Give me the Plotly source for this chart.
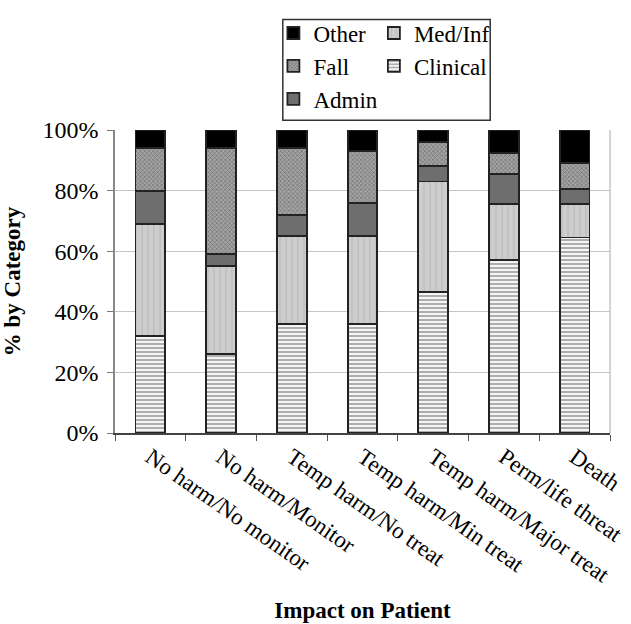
import plotly.graph_objects as go

categories = ["No harm/No monitor", "No harm/Monitor", "Temp harm/No treat",
              "Temp harm/Min treat", "Temp harm/Major treat", "Perm/life threat", "Death"]
clinical = [32, 26, 36, 36, 46.5, 57, 64.5]
med_inf = [37, 29, 29, 29, 36.5, 18.5, 11]
admin = [11, 4, 7, 11, 5, 10, 5]
fall = [14, 35, 22, 17, 8, 7, 8.5]
other = [6, 6, 6, 7, 4, 7.5, 11]

FONT = "Liberation Serif"
LINE = dict(color="#222222", width=1.8)

fig = go.Figure()
series = [
    ("Clinical", clinical, dict(color="white", pattern=dict(shape="-", fgcolor="#444444", bgcolor="#f4f4f4", size=4, solidity=0.4)), "legend2"),
    ("Med/Inf", med_inf, dict(color="#c8c8c8", pattern=dict(shape="|", fgcolor="#b0b0b0", bgcolor="#cdcdcd", size=6, solidity=0.25)), "legend2"),
    ("Admin", admin, dict(color="#6e6e6e"), "legend"),
    ("Fall", fall, dict(color="#808080", pattern=dict(shape="x", fgcolor="#4a4a4a", bgcolor="#a4a4a4", size=3, solidity=0.45)), "legend"),
    ("Other", other, dict(color="black"), "legend"),
]
for name, vals, mk, lg in series:
    mk = dict(mk)
    mk["line"] = LINE
    fig.add_trace(go.Bar(x=categories, y=vals, name=name, marker=mk, width=0.42, legend=lg))

LEG_FONT = dict(family=FONT, size=23, color="black")
fig.update_layout(
    barmode="stack",
    width=631, height=624,
    margin=dict(l=115, r=21, t=123, b=191),
    paper_bgcolor="white", plot_bgcolor="white",
    font=dict(family=FONT, size=23, color="black"),
    legend=dict(x=0.32, y=1.391, xanchor="left", yanchor="top", traceorder="reversed",
                font=LEG_FONT, itemwidth=30, bgcolor="rgba(0,0,0,0)"),
    legend2=dict(x=0.523, y=1.391, xanchor="left", yanchor="top", traceorder="reversed",
                 font=LEG_FONT, itemwidth=30, bgcolor="rgba(0,0,0,0)"),
    shapes=[
        dict(type="rect", xref="paper", yref="paper", x0=0.339, x1=0.758, y0=1.032, y1=1.365,
             line=dict(color="#333333", width=1.5), fillcolor="rgba(0,0,0,0)"),
        dict(type="line", xref="paper", yref="paper", x0=1, x1=1, y0=0, y1=1,
             line=dict(color="#a8a8a8", width=1)),
    ],
)
fig.update_xaxes(
    automargin=False,
    tickangle=35, tickson="boundaries", ticks="outside", ticklen=6, tickcolor="#555555",
    showline=True, linecolor="#444444", linewidth=1.5,
    tickfont=dict(family=FONT, size=23),
    title=dict(text="<b>Impact on Patient</b>", font=dict(family=FONT, size=23)),
)
fig.update_yaxes(
    automargin=False,
    range=[0, 100], dtick=20, ticksuffix="%", ticks="outside", ticklen=6, tickcolor="#777777",
    showline=True, linecolor="#888888", linewidth=1.5,
    showgrid=True, gridcolor="#c4c4c4", gridwidth=1,
    tickfont=dict(family=FONT, size=24), ticklabelstandoff=4,
    title=dict(text="<b>% by Category</b>", font=dict(family=FONT, size=23)),
)
fig.write_html("out.html", config={"displayModeBar": False},
               post_script="document.body.style.margin='0';document.body.style.overflow='hidden';")
